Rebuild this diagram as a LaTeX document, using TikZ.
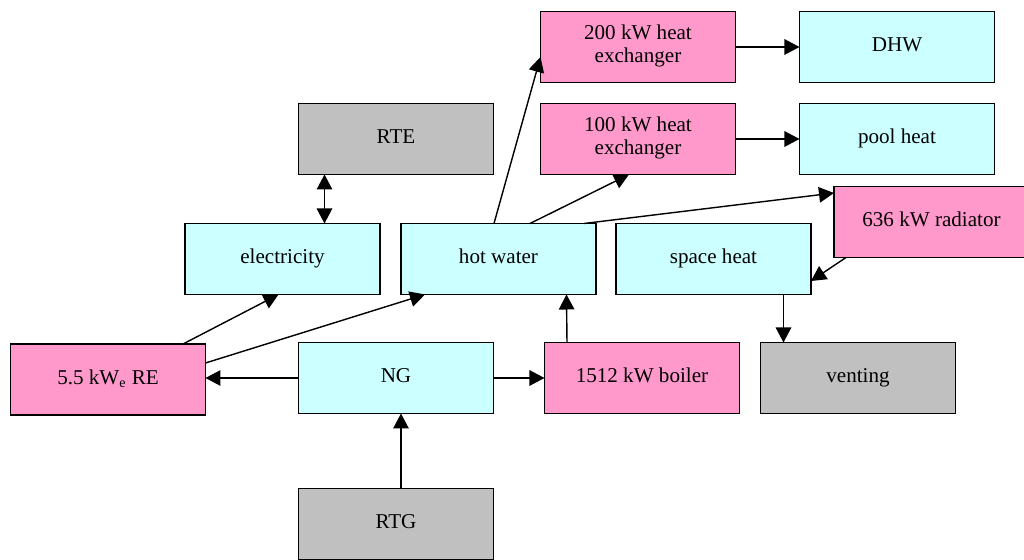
\documentclass[tikz,border=0pt]{standalone}
\usepackage{fontspec}
\setmainfont{Liberation Serif}
\usepackage{tikz}
\usepackage{xcolor}
\usetikzlibrary{arrows.meta, positioning}
\definecolor{unitpink}{HTML}{FF99CC}
\definecolor{streamcyan}{HTML}{CCFFFF}
\definecolor{extgray}{HTML}{C0C0C0}
\tikzstyle{equipment} = [rectangle, minimum width=3.9cm, minimum height=1.42cm,
                         text centered, draw=black, fill=unitpink]
\tikzstyle{stream}    = [rectangle, minimum width=3.9cm, minimum height=1.42cm,
                         text centered, draw=black, fill=streamcyan]
\tikzstyle{external}  = [rectangle, minimum width=3.9cm, minimum height=1.42cm,
                         text centered, draw=black, fill=extgray]
\tikzstyle{arrow}     = [-{Triangle[length=3mm, width=3.1mm]}, line width=0.8pt]
\tikzstyle{dblarrow}  = [{Triangle[length=3mm, width=3.1mm]}-{Triangle[length=3mm, width=3.1mm]}, line width=0.8pt]

\begin{document}
\begin{tikzpicture}[every node/.style={font=\fontsize{12}{13}\selectfont, align=center, line width=1.1pt, inner sep=2pt, outer sep=0pt, execute at begin node=\strut}]
    \useasboundingbox (-7.92,-3.64) rectangle (12.56,7.56);

    \node (ng) [stream] at (0,0) {NG};
    \node (re) [equipment, left=1.86cm of ng, yshift=-0.03cm] {5.5 kW\textsubscript{e} RE};
    \node (boiler) [equipment, right=1.02cm of ng] {1512 kW boiler};
    \node (venting) [external, right=0.42cm of boiler] {venting};
    \node (rtg) [external, below=1.5cm of ng] {RTG};

    \node (hotwater) [stream, above=0.96cm of ng, xshift=2.05cm] {hot water};
    \node (electricity) [stream, left=0.42cm of hotwater] {electricity};
    \node (spaceheat) [stream, right=0.4cm of hotwater] {space heat};
    \node (radiator) [equipment, right=0.46cm of spaceheat, yshift=0.74cm] {636 kW radiator};

    \node (rte) [external, above=3.36cm of ng] {RTE};
    \node (hx100) [equipment, right=0.94cm of rte] {100 kW heat\\exchanger};
    \node (hx200) [equipment, above=0.42cm of hx100] {200 kW heat\\exchanger};
    \node (pool) [stream, right=1.28cm of hx100] {pool heat};
    \node (dhw) [stream, right=1.28cm of hx200] {DHW};

    \draw[dblarrow] ([xshift=0.84cm]electricity.north) -- ([xshift=0.84cm]electricity.north |- rte.south);
    \draw[arrow] ([xshift=-0.09cm]hotwater.north) -- ([yshift=-0.2cm]hx200.west);
    \draw[arrow] ([xshift=0.63cm]hotwater.north) -- ([xshift=-0.18cm]hx100.south);
    \draw[arrow] ([xshift=1.71cm]hotwater.north) -- ([yshift=0.58cm]radiator.west);
    \draw[arrow] ([xshift=0.24cm]radiator.south west) -- ([yshift=-0.44cm]spaceheat.east);
    \draw[arrow] ([xshift=1.4cm]spaceheat.south) -- ([xshift=1.4cm]spaceheat.south |- venting.north);
    \draw[arrow] ([xshift=1.5cm]re.north) -- ([xshift=-0.08cm]electricity.south);
    \draw[arrow] ([yshift=0.33cm]re.east) -- ([xshift=-1.47cm]hotwater.south);
    \draw[arrow] (ng.west) -- (ng.west -| re.east);
    \draw[arrow] (ng) -- (boiler);
    \draw[arrow] ([xshift=0.1cm]rtg.north) -- ([xshift=0.1cm]ng.south);
    \draw[arrow] ([xshift=-1.5cm]boiler.north) -- ([xshift=1.36cm]hotwater.south);
    \draw[arrow] (hx200) -- (dhw);
    \draw[arrow] (hx100) -- (pool);
\end{tikzpicture}
\end{document}
